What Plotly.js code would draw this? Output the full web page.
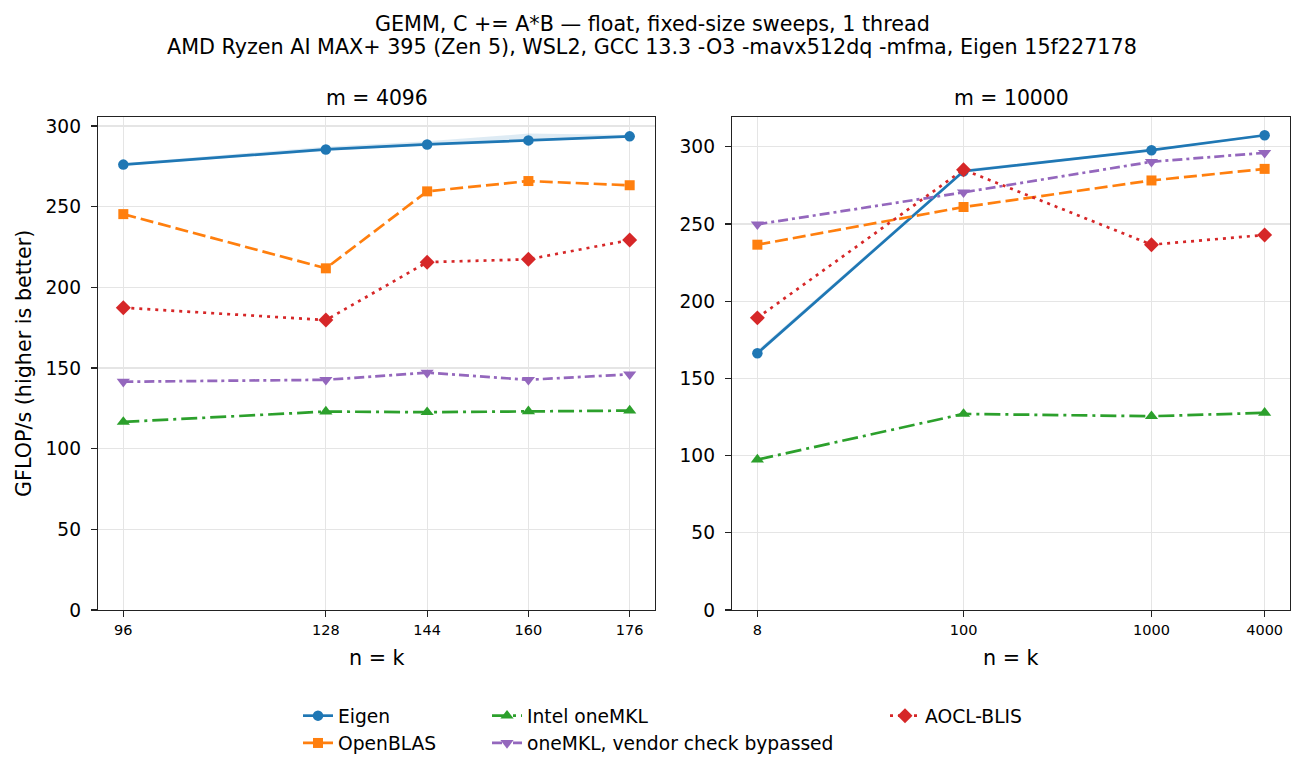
<!DOCTYPE html>
<html>
<head>
<meta charset="utf-8">
<script src="https://cdn.plot.ly/plotly-3.0.1.min.js"></script>
<style>html,body{margin:0;padding:0;background:#fff;}#chart{width:1304px;height:777px;}</style>
</head>
<body>
<div id="chart"></div>
<script>
// ---- data: panel m = 4096 ----
const nk4096 = [96, 128, 144, 160, 176];
const eigen4096 = [276.1, 285.5, 288.6, 291.1, 293.6];
const eigenLo4096 = [275.4, 284.6, 287.9, 290.4, 293.0];
const eigenHi4096 = [277.0, 287.2, 290.6, 295.3, 294.4];
const openblas4096 = [245.4, 211.8, 259.5, 265.9, 263.3];
const mkl4096 = [116.6, 123.0, 122.6, 123.2, 123.6];
const mklBypass4096 = [141.5, 142.7, 147.1, 142.7, 146.1];
const blis4096 = [187.4, 179.7, 215.6, 217.4, 229.3];

// ---- data: panel m = 10000 ----
const nk10000 = [8, 100, 1000, 4000];
const eigen10000 = [166.3, 284.2, 297.8, 307.5];
const eigenLo10000 = [165.0, 283.4, 297.1, 306.9];
const eigenHi10000 = [168.2, 285.4, 298.6, 308.2];
const openblas10000 = [236.6, 261.0, 278.2, 285.7];
const mkl10000 = [97.4, 127.0, 125.5, 127.7];
const mklBypass10000 = [249.8, 270.5, 290.3, 296.1];
const blis10000 = [189.2, 285.2, 236.6, 242.9];

const yTicks = [0, 50, 100, 150, 200, 250, 300];
const seriesNames = ["Eigen", "OpenBLAS", "Intel oneMKL", "oneMKL, vendor check bypassed", "AOCL-BLIS"];

const C = {blue:"#1f77b4", orange:"#ff7f0e", green:"#2ca02c", purple:"#9467bd", red:"#d62728"};
const LW = 2.7;
const styles = [
  {color:C.blue, dash:"solid", symbol:"circle", size:10.5, legend:"legend"},
  {color:C.orange, dash:"13px,5px", symbol:"square", size:10, legend:"legend"},
  {color:C.green, dash:"16px,5px,3px,5px", symbol:"triangle-up", size:11.5, legend:"legend2"},
  {color:C.purple, dash:"10px,4px,3px,4px", symbol:"triangle-down", size:11.5, legend:"legend2"},
  {color:C.red, dash:"3px,5px", symbol:"diamond", size:11.5, legend:"legend3"}
];

function band(x, lo, hi, xa, ya) {
  return [
    {x:x, y:lo, xaxis:xa, yaxis:ya, mode:"lines", line:{width:0, color:"rgba(0,0,0,0)"}, showlegend:false, hoverinfo:"skip"},
    {x:x, y:hi, xaxis:xa, yaxis:ya, mode:"lines", line:{width:0, color:"rgba(0,0,0,0)"}, fill:"tonexty", fillcolor:"rgba(31,119,180,0.15)", showlegend:false, hoverinfo:"skip"}
  ];
}
function series(i, x, y, xa, ya, show) {
  const s = styles[i];
  return {x:x, y:y, xaxis:xa, yaxis:ya, name:seriesNames[i], mode:"lines+markers",
    line:{color:s.color, width:LW, dash:s.dash},
    marker:{color:s.color, symbol:s.symbol, size:s.size, line:{width:0}},
    showlegend:show, legend:s.legend};
}

const left = [eigen4096, openblas4096, mkl4096, mklBypass4096, blis4096];
const right = [eigen10000, openblas10000, mkl10000, mklBypass10000, blis10000];

let traces = [];
traces = traces.concat(band(nk4096, eigenLo4096, eigenHi4096, "x", "y"));
traces = traces.concat(band(nk10000, eigenLo10000, eigenHi10000, "x2", "y2"));
[0,1,2,3,4].forEach(i => traces.push(series(i, nk4096, left[i], "x", "y", true)));
[0,1,2,3,4].forEach(i => traces.push(series(i, nk10000, right[i], "x2", "y2", false)));

const W = 1304, H = 777;
const px = v => v / W, py = v => 1 - v / H;
const font = "DejaVu Sans, sans-serif";

const axCommon = {
  showline:true, linecolor:"#222", linewidth:1.3, mirror:true,
  ticks:"outside", ticklen:6, tickwidth:1.2, tickcolor:"#222",
  showgrid:true, gridcolor:"#e5e5e5", gridwidth:1.2, zeroline:false,
  automargin:false, fixedrange:true
};

const legendCommon = {font:{family:font, size:18.7, color:"#000"}, bgcolor:"rgba(0,0,0,0)",
  orientation:"v", xanchor:"left", yanchor:"top", tracegroupgap:0, traceorder:"normal"};

const tt = (text, x, y, size, extra) => Object.assign({text:text, x:px(x), y:py(y), xref:"paper", yref:"paper",
  showarrow:false, font:{size:size, family:font, color:"#000"}, xanchor:"center", yanchor:"middle"}, extra || {});

const layout = {
  width:W, height:H, margin:{l:0, r:0, t:0, b:0},
  paper_bgcolor:"#fff", plot_bgcolor:"#fff",
  font:{family:font, color:"#000"},
  xaxis: Object.assign({}, axCommon, {domain:[px(98), px(655)], range:[92, 180],
    tickvals:nk4096, ticktext:nk4096.map(String), tickfont:{size:14.5, family:font}, anchor:"y"}),
  yaxis: Object.assign({}, axCommon, {domain:[py(610), py(117)], range:[0, 305.6],
    tickvals:yTicks, tickfont:{size:18.6, family:font}, ticklabelstandoff:6, anchor:"x"}),
  xaxis2: Object.assign({}, axCommon, {domain:[px(732), px(1290)], type:"log",
    range:[Math.log10(8) - 0.135, Math.log10(4000) + 0.135],
    tickvals:nk10000, ticktext:nk10000.map(String), tickfont:{size:14.5, family:font}, anchor:"y2"}),
  yaxis2: Object.assign({}, axCommon, {domain:[py(610), py(117)], range:[0, 319.3],
    tickvals:yTicks, tickfont:{size:18.6, family:font}, ticklabelstandoff:6, anchor:"x2"}),
  legend: Object.assign({}, legendCommon, {x:px(298), y:py(697)}),
  legend2: Object.assign({}, legendCommon, {x:px(487), y:py(697)}),
  legend3: Object.assign({}, legendCommon, {x:px(885), y:py(697)}),
  annotations: [
    tt("GEMM, C += A*B — float, fixed-size sweeps, 1 thread", 652, 24, 20.7),
    tt("AMD Ryzen AI MAX+ 395 (Zen 5), WSL2, GCC 13.3 -O3 -mavx512dq -mfma, Eigen 15f227178", 652, 47, 20.7),
    tt("m = 4096", 376.5, 98, 20.4),
    tt("m = 10000", 1011, 98, 20.4),
    tt("n = k", 376.5, 658, 20.7),
    tt("n = k", 1011, 658, 20.7),
    tt("GFLOP/s (higher is better)", 24, 364, 20.7, {textangle:-90})
  ]
};

Plotly.newPlot("chart", traces, layout, {staticPlot:true, displayModeBar:false});
</script>
</body>
</html>
